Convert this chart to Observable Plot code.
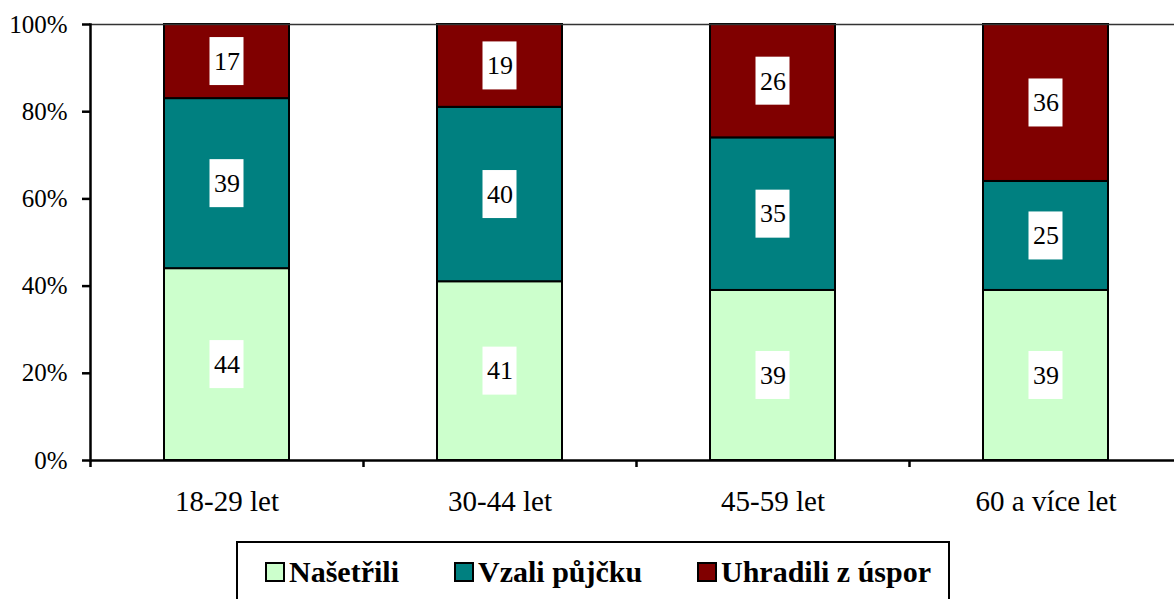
<!DOCTYPE html>
<html>
<head>
<meta charset="utf-8">
<script src="https://cdn.jsdelivr.net/npm/d3@7"></script>
<script src="https://cdn.jsdelivr.net/npm/@observablehq/plot@0.6"></script>
<style>
  html, body { margin: 0; padding: 0; background: #fff; }
  body { width: 1174px; height: 599px; overflow: hidden; font-family: 'Liberation Serif', serif; }
  #chart svg { display: block; }
  #legend {
    position: relative;
    margin-left: 236px; margin-top: 11px; width: 714px; height: 62px;
    border: 2px solid #000; box-sizing: border-box;
    font-family: 'Liberation Serif', serif;
    font-weight: bold; font-size: 30px; color: #000;
  }
  .item { position: absolute; top: 0; height: 58px; display: flex; align-items: center; white-space: nowrap; }
  .sw { width: 20px; height: 20px; border: 2px solid #000; margin-right: 4px; box-sizing: border-box; }
</style>
</head>
<body>
<div id="chart"></div>
<div id="legend"></div>
<script>
const ages = ["18-29 let", "30-44 let", "45-59 let", "60 a více let"];
const series = ["Našetřili", "Vzali půjčku", "Uhradili z úspor"];
const nasetrili = [44, 41, 39, 39];
const vzali = [39, 40, 35, 25];
const uhradili = [17, 19, 26, 36];
const colors = ["#CCFFCC", "#008080", "#800000"];
const yTicks = [0, 20, 40, 60, 80, 100];

const seriesValues = [nasetrili, vzali, uhradili];
const data = [];
const labels = [];
ages.forEach((age, i) => {
  let cum = 0;
  seriesValues.forEach((vals, s) => {
    const v = vals[i];
    data.push({age, series: series[s], value: v});
    labels.push({age, series: series[s], value: v, mid: cum + v / 2});
    cum += v;
  });
});

const W = 1174, H = 530;
const mL = 90, mT = 24, mB = 70;
const step = 273;
const xRange = [mL, mL + step * ages.length];
const FONT = "Liberation Serif";

const chart = Plot.plot({
  width: W, height: H,
  marginLeft: mL, marginRight: 0, marginTop: mT, marginBottom: mB,
  style: {fontFamily: FONT, color: "#000", background: "#fff"},
  x: {domain: ages, range: xRange, padding: 0, label: null},
  y: {domain: [0, 100], label: null},
  color: {domain: series, range: colors},
  marks: [
    Plot.barY(data, {x: "age", y: "value", fill: "series", stroke: "#000", strokeWidth: 2,
      insetLeft: 74, insetRight: 74, order: series}),
    Plot.ruleY([100], {stroke: "#333", strokeWidth: 1.5}),
    Plot.ruleY([0], {stroke: "#000", strokeWidth: 2.5}),
    Plot.frame({anchor: "left", stroke: "#000", strokeWidth: 2.5}),
    Plot.ruleX(ages, {x: d => d, dx: -step / 2, y1: 0, y2: 0, insetTop: 0, insetBottom: -7,
      stroke: "#000", strokeWidth: 2.5}),
    Plot.barY(labels, {x: "age", y1: "mid", y2: "mid", fill: "#fff",
      insetLeft: (step - 34) / 2, insetRight: (step - 34) / 2, insetTop: -24, insetBottom: -24}),
    Plot.text(labels, {x: "age", y: "mid", text: d => String(d.value), fontSize: 26, fill: "#000",
      fontFamily: FONT}),
    Plot.axisY({ticks: yTicks, tickFormat: d => d + "%", tickSize: 8, tickPadding: 15,
      fontSize: 25, stroke: "#000", strokeWidth: 2.5, fill: "#000", fontFamily: FONT}),
    Plot.axisX({tickSize: 0, tickPadding: 30, fontSize: 29, fill: "#000", fontFamily: FONT})
  ]
});
document.getElementById("chart").appendChild(chart);

const legend = document.getElementById("legend");
const legendLeft = [27, 216, 459];
series.forEach((s, i) => {
  const item = document.createElement("div");
  item.className = "item";
  item.style.left = legendLeft[i] + "px";
  const sw = document.createElement("div");
  sw.className = "sw";
  sw.style.background = colors[i];
  const t = document.createElement("span");
  t.textContent = s;
  item.appendChild(sw);
  item.appendChild(t);
  legend.appendChild(item);
});
</script>
</body>
</html>
